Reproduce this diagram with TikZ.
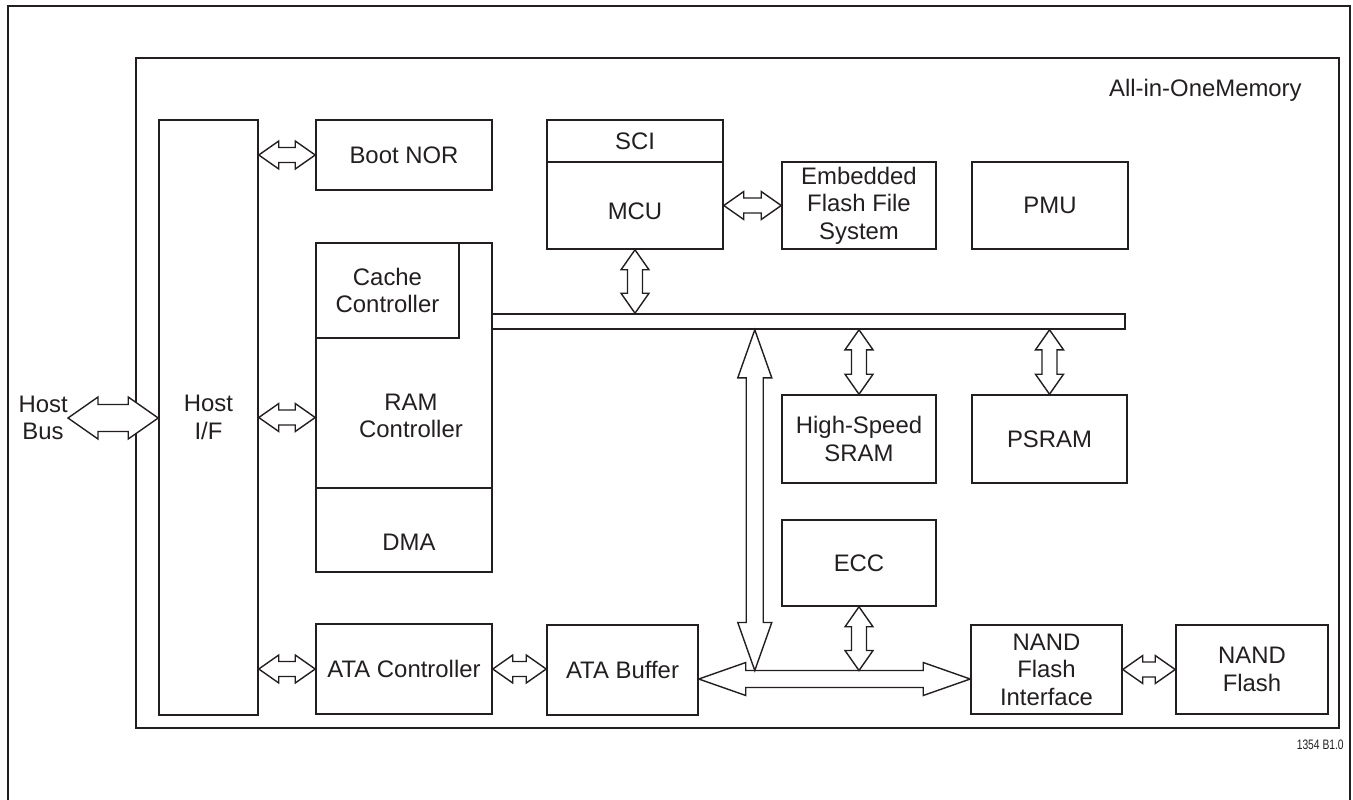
\documentclass[tikz,border=0pt]{standalone}
\usepackage{fontspec}
\setmainfont{Liberation Sans}
\newfontfamily\narrowfont[FakeStretch=0.75]{Liberation Sans}
\usetikzlibrary{calc}

\definecolor{ink}{HTML}{231F20}

% 両矢印（横）: 左端, 右端, 矢じりの長さ, 矢じりの半幅, 軸の半幅
\newcommand{\hdarrow}[5]{%
  \draw[arr] (#1) -- ++(#3,#4) -- ++(0,#5-#4) -- ($(#2)+(-#3,#5)$) -- ++(0,#4-#5) -- (#2)
    -- ++(-#3,-#4) -- ++(0,#4-#5) -- ($(#1)+(#3,-#5)$) -- ++(0,#5-#4) -- cycle;}
% 両矢印（縦）: 上端, 下端, 矢じりの長さ, 矢じりの半幅, 軸の半幅
\newcommand{\vdarrow}[5]{%
  \draw[arr] (#1) -- ++(#4,#3) -- ++(#5-#4,0) -- ($(#2)+(#5,-#3)$) -- ++(#4-#5,0) -- (#2)
    -- ++(-#4,-#3) -- ++(#4-#5,0) -- ($(#1)+(-#5,#3)$) -- ++(#5-#4,0) -- cycle;}

\tikzset{
  blk/.style={draw=ink, line width=0.9pt, align=center, inner sep=0pt, text=ink},
  lbl/.style={align=center, inner sep=0pt, text=ink},
  arr/.style={draw=ink, fill=white, line width=0.8pt, line join=miter},
}

\begin{document}
\begin{tikzpicture}[x=0.02cm, y=-0.02cm, font=\fontsize{13.6}{15.6}\selectfont]
    \useasboundingbox (0,0) rectangle (1353,799);

    % 外枠
    \draw[ink, line width=1.4pt] (8,805) -- (8,6) -- (1350,6) -- (1350,805);
    \node[blk, line width=1.1pt, minimum width=24.06cm, minimum height=13.4cm] (aio) at (737.5,393) {};
    \node[lbl, anchor=east] (aiolbl) at (1302,90) {All-in-OneMemory};
    \node[lbl, anchor=east, font=\narrowfont\fontsize{7.8}{9}\selectfont] (figno) at (1344,745) {1354 B1.0};

    % ブロック
    \node[lbl, anchor=east] (hostbus) at (68,418) {Host\\Bus};
    \node[blk, minimum width=1.98cm, minimum height=11.9cm] (hostif) at (208.5,417.5) {Host\\I/F};
    \node[blk, minimum width=3.52cm, minimum height=1.4cm] (bootnor) at (404,155) {Boot NOR};
    \node[blk, minimum width=3.52cm, minimum height=0.84cm] (sci) at (635,141) {SCI};
    \node[blk, minimum width=3.52cm, minimum height=1.74cm] (mcu) at (635,205.5) {};
    \node[lbl] (mcutxt) at (635,211) {MCU};
    \node[blk, minimum width=3.08cm, minimum height=1.74cm] (effs) at (859,205.5) {Embedded\\Flash File\\System};
    \node[blk, minimum width=3.12cm, minimum height=1.74cm] (pmu) at (1050,205.5) {PMU};

    \node[blk, minimum width=3.52cm, minimum height=6.58cm] (ramblk) at (404,407.5) {};
    \node[blk, minimum width=2.86cm, minimum height=1.9cm] (cache) at (387.5,290.5) {Cache\\Controller};
    \node[lbl] (ramtxt) at (411,416) {RAM\\Controller};
    \node[blk, minimum width=3.52cm, minimum height=1.68cm] (dma) at (404,530) {};
    \node[lbl] (dmatxt) at (409,542) {DMA};

    % バス
    \node[blk, minimum width=12.66cm, minimum height=0.3cm] (bus) at (808.5,321.5) {};

    \node[blk, minimum width=3.08cm, minimum height=1.76cm] (sram) at (859,439) {High-Speed\\SRAM};
    \node[blk, minimum width=3.1cm, minimum height=1.76cm] (psram) at (1049.5,439) {PSRAM};
    \node[blk, minimum width=3.08cm, minimum height=1.72cm] (ecc) at (859,563) {ECC};

    \node[blk, minimum width=3.52cm, minimum height=1.8cm] (atactl) at (404,669) {ATA Controller};
    \node[blk, minimum width=3.02cm, minimum height=1.8cm] (atabuf) at (622.5,670) {ATA Buffer};
    \node[blk, minimum width=3.02cm, minimum height=1.78cm] (nandif) at (1046.5,669.5) {NAND\\Flash\\Interface};
    \node[blk, minimum width=3.04cm, minimum height=1.78cm] (nand) at (1252,669.5) {NAND\\Flash};

    % 接続点
    \coordinate (hbr) at (hostif.west |- hostbus.east);
    \coordinate (a1) at (hostif.east |- bootnor.west);
    \coordinate (a2) at (ramblk.west |- hostif.east);
    \coordinate (a3) at (hostif.east |- atactl.west);
    \coordinate (a4) at (atabuf.west |- atactl.east);
    \coordinate (a5) at (effs.west |- mcu.east);
    \coordinate (hl) at ($(atabuf.east)+(0,9)$);
    \coordinate (hr) at (nandif.west |- hl);
    \coordinate (jx) at ($(hl)+(56,-8.5)$);
    \coordinate (vtop) at (jx |- bus.south);
    \coordinate (b1) at (mcu.south |- bus.north);
    \coordinate (b2) at (sram.north |- bus.south);
    \coordinate (b3) at (psram.north |- bus.south);
    \coordinate (b4) at (ecc.south |- jx);

    % 矢印
    \hdarrow{hostbus.east}{hbr}{30}{21}{13.5}
    \hdarrow{a1}{bootnor.west}{20}{14}{7.5}
    \hdarrow{hostif.east}{a2}{20}{14}{7.5}
    \hdarrow{a3}{atactl.west}{20}{14}{7.5}
    \hdarrow{atactl.east}{a4}{20}{14}{7.5}
    \hdarrow{mcu.east}{a5}{20}{14}{7.5}
    \hdarrow{nandif.east}{nand.west}{20}{14}{7.5}
    \vdarrow{mcu.south}{b1}{20}{14}{7.5}
    \vdarrow{b2}{sram.north}{20}{14}{7.5}
    \vdarrow{b3}{psram.north}{20}{14}{7.5}

    \hdarrow{hl}{hr}{47}{16.5}{8.5}
    \vdarrow{vtop}{jx}{48}{17}{8.5}
    \vdarrow{ecc.south}{b4}{20}{14}{7.5}
\end{tikzpicture}
\end{document}
